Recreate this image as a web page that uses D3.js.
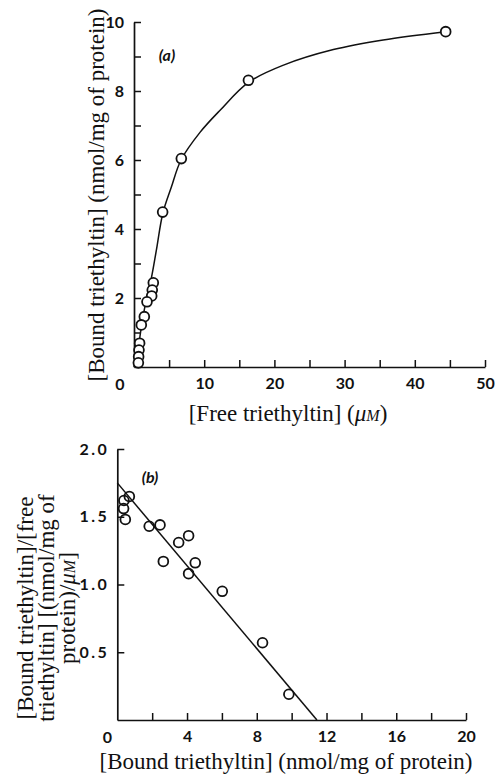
<!DOCTYPE html>
<html>
<head>
<meta charset="utf-8">
<script src="https://cdn.jsdelivr.net/npm/d3@7"></script>
<style>
  body { margin: 0; background: #fff; }
  .tick text, .num { font-family: Lato, "Open Sans", sans-serif; font-weight: 700; font-size: 16px; fill: #111; }
  .lbl { font-family: "Liberation Serif", "DejaVu Serif", serif; font-size: 23px; fill: #111; }
  .tag { font-family: Lato, sans-serif; font-style: italic; font-weight: 700; font-size: 16px; fill: #111; }
</style>
</head>
<body>
<div id="container"></div>
<script>
// panel (a): binding curve
var freeTet = [44.4, 16.3, 6.74, 4.08, 2.75, 2.6, 2.52, 1.85, 1.47, 1.04, 0.8, 0.71, 0.66, 0.62];
var boundTet = [9.72, 8.31, 6.04, 4.49, 2.44, 2.23, 2.06, 1.89, 1.46, 1.22, 0.69, 0.49, 0.3, 0.12];
// hand-drawn curve
var curveX = [0, 0.5, 1.0, 1.7, 2.4, 3.2, 4.1, 5.3, 6.7, 9.4, 12.3, 16.3, 21.3, 28.4, 35.5, 44.4];
var curveY = [0, 0.4, 1.1, 1.9, 2.5, 3.4, 4.45, 5.2, 6.0, 6.8, 7.45, 8.25, 8.75, 9.2, 9.48, 9.72];

// panel (b): Scatchard plot
var scatBound = [0.38, 0.36, 0.46, 0.69, 1.83, 2.45, 2.64, 3.52, 4.09, 4.47, 4.09, 6.02, 8.33, 9.84];
var scatRatio = [1.62, 1.56, 1.48, 1.65, 1.43, 1.44, 1.17, 1.31, 1.36, 1.16, 1.08, 0.95, 0.57, 0.19];
var fitX = [0, 11.45];
var fitY = [1.75, 0];

var ticksAx = d3.range(5, 51, 5),
    ticksAy = d3.range(1, 11, 1),
    ticksBx = d3.range(2, 21, 2),
    ticksBy = [0.5, 1.0, 1.5, 2.0];

var width = 496,
    height = 776;

var svg = d3.select('div#container')
    .append('svg')
    .attr('width', width)
    .attr('height', height);

function styleAxis(g) {
    g.select('.domain').attr('stroke', '#111').attr('stroke-width', 1.7);
    g.selectAll('.tick line').attr('stroke', '#111').attr('stroke-width', 1.5);
}

// smooth hand-drawn look for the binding curve
var line = d3.line().curve(d3.curveCatmullRom.alpha(0.5));

// ---------- (a) ----------
var xa = d3.scaleLinear().domain([0, 50]).range([134, 485]),
    ya = d3.scaleLinear().domain([0, 10]).range([367, 22]);

svg.append('g')
    .attr('transform', 'translate(0,' + ya(0) + ')')
    .call(d3.axisBottom(xa).tickValues(ticksAx)
        .tickSizeInner(-7).tickSizeOuter(0).tickPadding(11)
        .tickFormat(function(d) { return d % 10 === 0 ? d : ''; }))
    .call(styleAxis);

svg.append('g')
    .attr('transform', 'translate(' + xa(0) + ',0)')
    .call(d3.axisLeft(ya).tickValues(ticksAy)
        .tickSizeInner(-7).tickSizeOuter(0).tickPadding(10)
        .tickFormat(function(d) { return d % 2 === 0 ? d : ''; }))
    .call(styleAxis);

svg.append('text').attr('class', 'num')
    .attr('x', xa(0) - 14).attr('y', ya(0) + 23)
    .attr('text-anchor', 'middle')
    .text('0');

svg.append('path')
    .datum(curveX.map(function(d, i) { return [xa(d), ya(curveY[i])]; }))
    .attr('d', line)
    .attr('fill', 'none')
    .attr('stroke', '#111')
    .attr('stroke-width', 1.5);

svg.append('g').selectAll('circle')
    .data(freeTet)
    .enter().append('circle')
    .attr('cx', function(d) { return xa(d); })
    .attr('cy', function(d, i) { return ya(boundTet[i]); })
    .attr('r', 4.9)
    .attr('fill', '#fff')
    .attr('stroke', '#111')
    .attr('stroke-width', 1.8);

svg.append('text').attr('class', 'tag')
    .attr('x', 167).attr('y', 61)
    .attr('text-anchor', 'middle')
    .text('(a)');

var xla = svg.append('text').attr('class', 'lbl')
    .attr('x', 288).attr('y', 421)
    .attr('text-anchor', 'middle');
xla.append('tspan').text('[Free triethyltin] (');
xla.append('tspan').style('font-style', 'italic').text('μ');
xla.append('tspan').style('font-style', 'italic').style('font-size', '16px').text('M');
xla.append('tspan').text(')');

svg.append('text').attr('class', 'lbl')
    .attr('transform', 'translate(104,195) rotate(-90)')
    .attr('text-anchor', 'middle')
    .text('[Bound triethyltin] (nmol/mg of protein)');

// ---------- (b) ----------
var xb = d3.scaleLinear().domain([0, 20]).range([117.3, 466]),
    yb = d3.scaleLinear().domain([0, 2]).range([720, 449]);

svg.append('g')
    .attr('transform', 'translate(0,' + yb(0) + ')')
    .call(d3.axisBottom(xb).tickValues(ticksBx)
        .tickSizeInner(-7).tickSizeOuter(0).tickPadding(11)
        .tickFormat(function(d) { return d % 4 === 0 ? d : ''; }))
    .call(styleAxis);

svg.append('g')
    .attr('transform', 'translate(' + xb(0) + ',0)')
    .call(d3.axisLeft(yb).tickValues(ticksBy)
        .tickSizeInner(-7).tickSizeOuter(0).tickPadding(8)
        .tickFormat(d3.format('.1f')))
    .call(styleAxis)
    .selectAll('.tick text').style('letter-spacing', '2.5px');

svg.append('text').attr('class', 'num')
    .attr('x', xb(0) - 10).attr('y', yb(0) + 23)
    .attr('text-anchor', 'middle')
    .text('0');

svg.append('path')
    .datum(fitX.map(function(d, i) { return [xb(d), yb(fitY[i])]; }))
    .attr('d', d3.line())
    .attr('fill', 'none')
    .attr('stroke', '#111')
    .attr('stroke-width', 1.5);

svg.append('g').selectAll('circle')
    .data(scatBound)
    .enter().append('circle')
    .attr('cx', function(d) { return xb(d); })
    .attr('cy', function(d, i) { return yb(scatRatio[i]); })
    .attr('r', 4.9)
    .attr('fill', 'none')
    .attr('stroke', '#111')
    .attr('stroke-width', 1.8);

svg.append('text').attr('class', 'tag')
    .attr('x', 150).attr('y', 483)
    .attr('text-anchor', 'middle')
    .text('(b)');

svg.append('text').attr('class', 'lbl')
    .attr('x', 286).attr('y', 769)
    .attr('text-anchor', 'middle')
    .text('[Bound triethyltin] (nmol/mg of protein)');

var ylb = svg.append('text').attr('class', 'lbl')
    .attr('transform', 'translate(33,608) rotate(-90)')
    .attr('text-anchor', 'middle');
ylb.append('tspan').attr('x', 0).attr('dy', 0).text('[Bound triethyltin]/[free');
ylb.append('tspan').attr('x', 0).attr('dy', 21).text('triethyltin] [(nmol/mg of');
ylb.append('tspan').attr('x', 0).attr('dy', 21).text('protein)/');
ylb.append('tspan').style('font-style', 'italic').text('μ');
ylb.append('tspan').style('font-style', 'italic').style('font-size', '16px').text('M');
ylb.append('tspan').text(']');
</script>
</body>
</html>
